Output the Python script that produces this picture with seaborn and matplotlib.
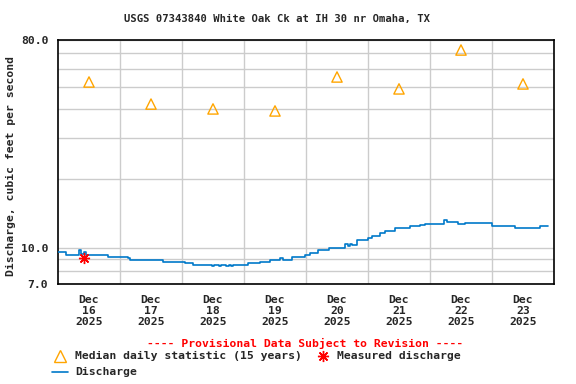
import matplotlib
matplotlib.use("Agg")
import matplotlib.pyplot as plt
import matplotlib.dates as mdates
from matplotlib.lines import Line2D
import seaborn as sns
import pandas as pd

# gage readings, kept only where the reported value changes
flow_times = [
    "2025-12-16 00:00", "2025-12-16 03:00", "2025-12-16 08:00", "2025-12-16 09:00",
    "2025-12-16 10:00", "2025-12-16 11:00", "2025-12-16 19:30", "2025-12-17 03:00",
    "2025-12-17 04:00", "2025-12-17 16:30", "2025-12-18 01:00", "2025-12-18 04:15",
    "2025-12-18 11:30", "2025-12-18 12:30", "2025-12-18 14:15", "2025-12-18 15:00",
    "2025-12-18 17:00", "2025-12-18 18:00", "2025-12-18 19:00", "2025-12-18 19:45",
    "2025-12-19 01:30", "2025-12-19 06:15", "2025-12-19 10:00", "2025-12-19 14:00",
    "2025-12-19 15:00", "2025-12-19 18:30", "2025-12-19 23:30", "2025-12-20 01:30",
    "2025-12-20 04:30", "2025-12-20 09:00", "2025-12-20 15:00", "2025-12-20 16:15",
    "2025-12-20 17:00", "2025-12-20 17:45", "2025-12-20 19:45", "2025-12-21 00:00",
    "2025-12-21 01:30", "2025-12-21 04:30", "2025-12-21 06:30", "2025-12-21 10:30",
    "2025-12-21 16:15", "2025-12-21 20:00", "2025-12-21 22:00", "2025-12-22 05:30",
    "2025-12-22 06:30", "2025-12-22 11:00", "2025-12-22 13:30", "2025-12-23 00:00",
    "2025-12-23 09:00", "2025-12-23 18:30", "2025-12-23 21:45",
]
flow_cfs = [
    9.6, 9.35, 9.8, 9.45,
    9.6, 9.35, 9.2, 9.1,
    8.9, 8.75, 8.65, 8.5,
    8.37, 8.5, 8.37, 8.5,
    8.37, 8.5, 8.37, 8.5,
    8.63, 8.75, 8.9, 9.1,
    8.9, 9.2, 9.35, 9.5,
    9.8, 10.05, 10.4, 10.2,
    10.4, 10.35, 10.9, 11.1,
    11.35, 11.6, 11.9, 12.25,
    12.5, 12.65, 12.8, 13.2,
    13.0, 12.8, 12.9, 12.5,
    12.3, 12.5, 12.5,
]

median_times = [
    "2025-12-16 12:00", "2025-12-17 12:00", "2025-12-18 12:00", "2025-12-19 12:00",
    "2025-12-20 12:00", "2025-12-21 12:00", "2025-12-22 12:00", "2025-12-23 12:00",
]
median_cfs = [52.6, 42.2, 40.2, 39.4, 55.3, 49.1, 72.4, 51.6]

measured_times = ["2025-12-16 10:00"]
measured_cfs = [9.05]

day_labels = ["Dec\n16\n2025", "Dec\n17\n2025", "Dec\n18\n2025", "Dec\n19\n2025",
              "Dec\n20\n2025", "Dec\n21\n2025", "Dec\n22\n2025", "Dec\n23\n2025"]
y_major = [7, 10, 80]
y_major_labels = ["7.0", "10.0", "80.0"]
y_minor = [8, 9, 20, 30, 40, 50, 60, 70]

BLUE = "#0079c9"
ORANGE = "#ffa500"
GRID = "#cccccc"

sns.set_style("white")
plt.rcParams["font.family"] = ["DejaVu Sans Mono"]
plt.rcParams["font.weight"] = "bold"
plt.rcParams["font.size"] = 8.2

flow = pd.DataFrame({"time": pd.to_datetime(flow_times), "cfs": flow_cfs})
medians = pd.DataFrame({"time": pd.to_datetime(median_times), "cfs": median_cfs})
measured = pd.DataFrame({"time": pd.to_datetime(measured_times), "cfs": measured_cfs})

fig = plt.figure(figsize=(5.76, 3.84), dpi=100)
W, H = 576, 384
ax = fig.add_axes([58 / W, 1 - 284 / H, 496 / W, 244 / H])

ax.set_yscale("log")
sns.lineplot(data=flow, x="time", y="cfs", drawstyle="steps-post", color=BLUE,
             linewidth=1.2, ax=ax, zorder=3)
sns.scatterplot(data=medians, x="time", y="cfs", marker="^", s=55, facecolors="none",
                edgecolor=ORANGE, linewidth=1.0, ax=ax, zorder=4)
ax.plot(measured["time"], measured["cfs"], linestyle="none", marker=(8, 2, 0),
        markersize=8, color="red", markeredgewidth=1.0, zorder=5)

ax.set_ylim(7, 80)
ax.set_xlim(pd.Timestamp("2025-12-16 00:00"), pd.Timestamp("2025-12-24 00:00"))

ax.set_yticks(y_major)
ax.set_yticklabels(y_major_labels)
ax.set_yticks(y_minor, minor=True)
ax.yaxis.set_minor_formatter(plt.NullFormatter())

ax.set_xticks(pd.to_datetime(median_times))
ax.set_xticklabels(day_labels, linespacing=1.1)
ax.set_xticks(pd.date_range("2025-12-17", "2025-12-23", freq="D"), minor=True)

ax.grid(which="both", color=GRID, linewidth=1.0, zorder=0)
ax.grid(which="major", axis="x", visible=False)
ax.tick_params(axis="y", which="major", length=5, width=1, pad=2)
ax.tick_params(axis="y", which="minor", length=0)
ax.tick_params(axis="x", which="both", length=0, pad=8)
for s in ax.spines.values():
    s.set_color("black")
    s.set_linewidth(1.2)
ax.set_xlabel("")
ax.set_ylabel("")

fig.text(277 / W, 1 - 19 / H, "USGS 07343840 White Oak Ck at IH 30 nr Omaha, TX",
         ha="center", va="center", fontsize=7.6)
fig.text(11 / W, 1 - 166 / H, "Discharge, cubic feet per second", rotation=90,
         ha="center", va="center")

# legend block under the plot
fig.text(305 / W, 1 - 343 / H, "---- Provisional Data Subject to Revision ----",
         color="red", ha="center", va="center")
fig.add_artist(Line2D([60 / W], [1 - 355.5 / H], marker="^", markersize=8,
                      markerfacecolor="none", markeredgecolor=ORANGE,
                      markeredgewidth=1.0, transform=fig.transFigure))
fig.text(75 / W, 1 - 356 / H, "Median daily statistic (15 years)", ha="left", va="center")
fig.add_artist(Line2D([323 / W], [1 - 356 / H], marker=(8, 2, 0), markersize=8,
                      color="red", markeredgewidth=1.0, transform=fig.transFigure))
fig.text(337 / W, 1 - 356 / H, "Measured discharge", ha="left", va="center")
fig.add_artist(Line2D([52 / W, 68 / W], [1 - 372 / H, 1 - 372 / H], color=BLUE,
                      linewidth=1.2, transform=fig.transFigure))
fig.text(75 / W, 1 - 372 / H, "Discharge", ha="left", va="center")

fig.savefig("out.png", dpi=100)
